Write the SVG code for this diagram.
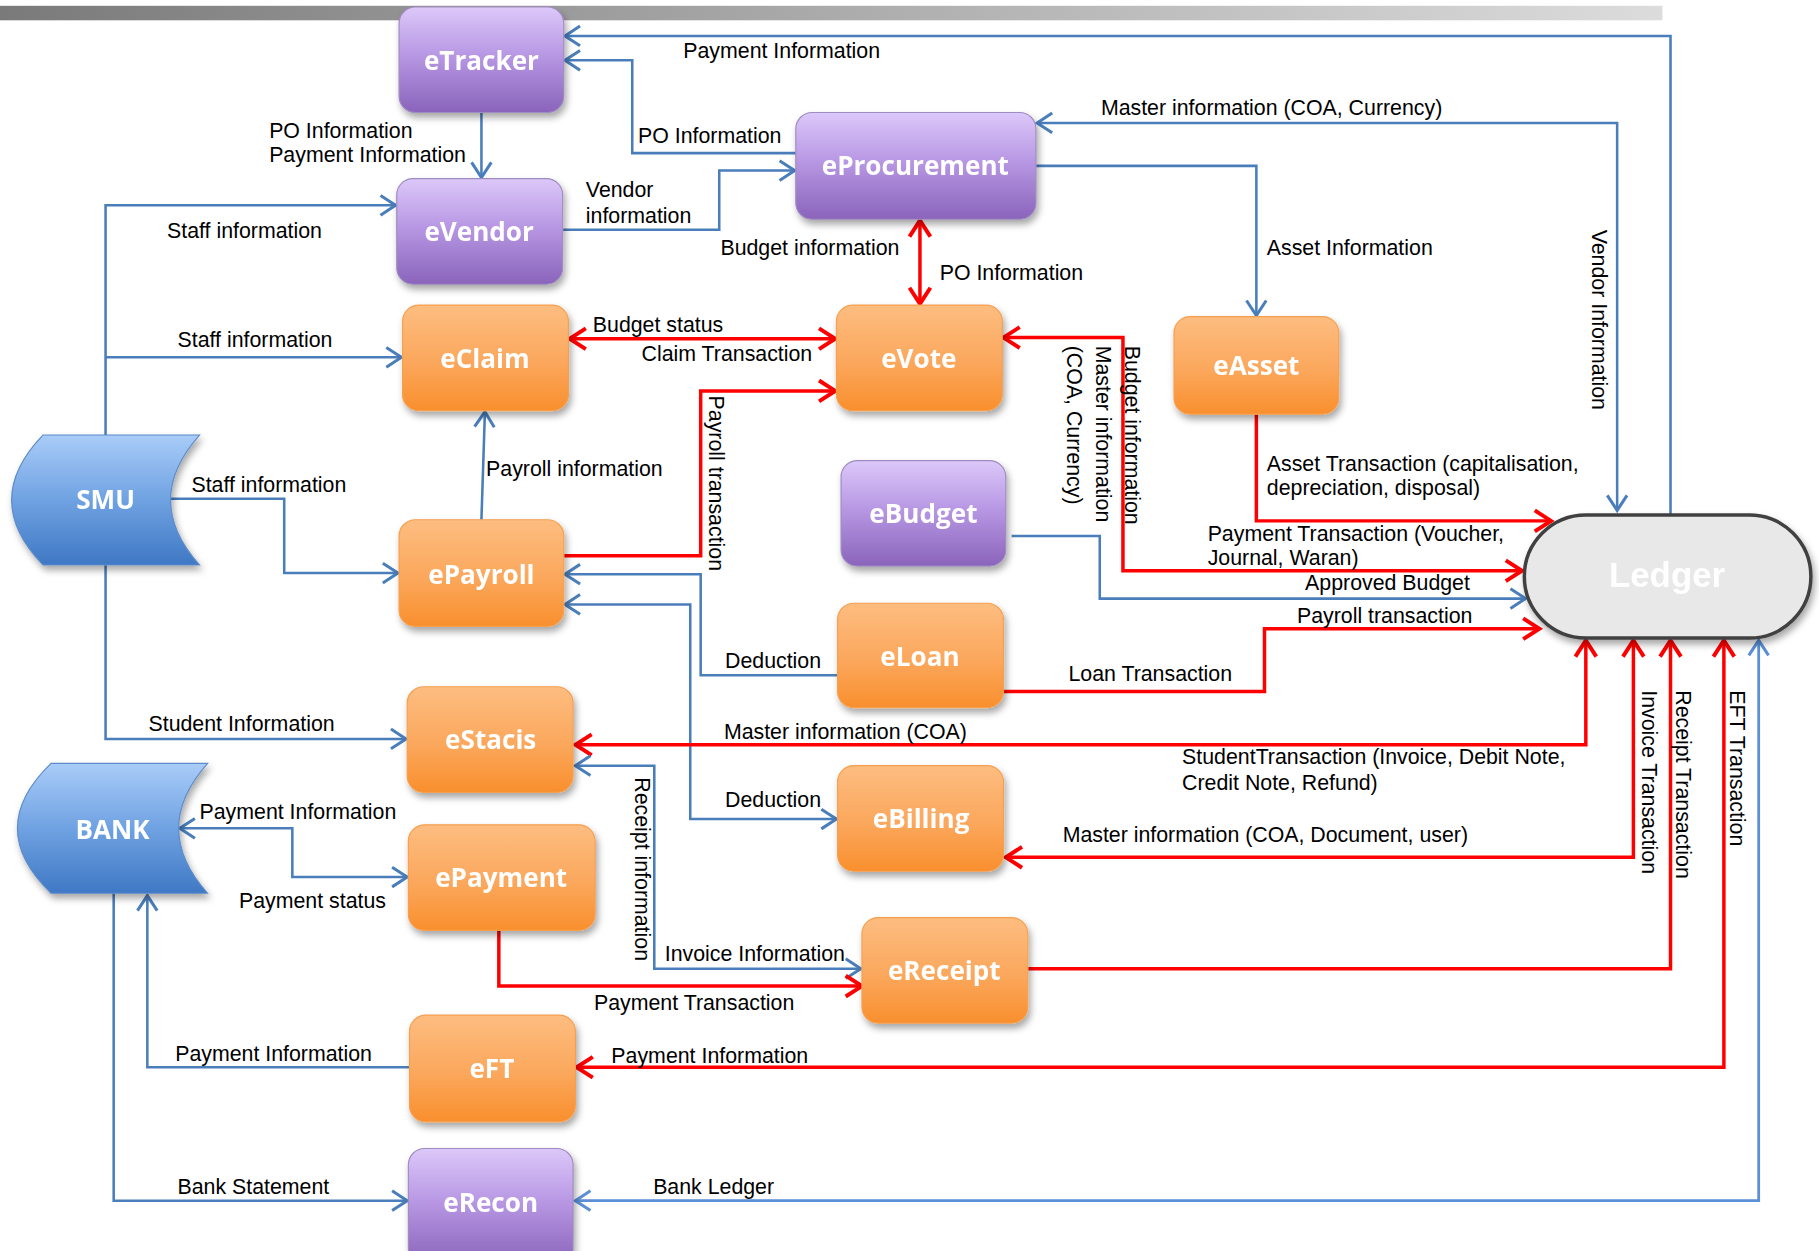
<svg xmlns="http://www.w3.org/2000/svg" width="1819" height="1251" viewBox="0 0 1819 1251">
<defs>
<style>
.lbl{font-family:"Liberation Sans",Arial,sans-serif;font-size:18.4px;fill:#000}
.nt{font-family:"Open Sans","Noto Sans",sans-serif;font-weight:700;font-size:22.5px;fill:#fff;text-anchor:middle}
.b{fill:none;stroke:#4a7ebb;stroke-width:2.2}
.b2{fill:none;stroke:#5b8fd6;stroke-width:2.4}
.r{fill:none;stroke:#ff0000;stroke-width:3}
.ob{fill:url(#og);stroke:#f6a050;stroke-width:1}
.pb{fill:url(#pg);stroke:#9f8cc0;stroke-width:1}
.bl{fill:url(#bg);stroke:#5d8cc9;stroke-width:1}
</style>
<linearGradient id="bar" x1="0" y1="0" x2="1" y2="0"><stop offset="0" stop-color="#7a7a7a"/><stop offset="1" stop-color="#dcdcdc"/></linearGradient>
<linearGradient id="og" x1="0" y1="0" x2="0" y2="1"><stop offset="0" stop-color="#fdbd80"/><stop offset="0.55" stop-color="#fba75c"/><stop offset="1" stop-color="#f98f2d"/></linearGradient>
<linearGradient id="pg" x1="0" y1="0" x2="0" y2="1"><stop offset="0" stop-color="#dcc8f9"/><stop offset="0.45" stop-color="#b898e4"/><stop offset="1" stop-color="#8a64bb"/></linearGradient>
<linearGradient id="bg" x1="0" y1="0" x2="0" y2="1"><stop offset="0" stop-color="#a9ccf8"/><stop offset="0.5" stop-color="#6fa2e2"/><stop offset="1" stop-color="#3f78c4"/></linearGradient>
<filter id="sh" x="-20%" y="-20%" width="140%" height="160%"><feDropShadow dx="2" dy="4" stdDeviation="3" flood-color="#000" flood-opacity="0.35"/></filter>
<marker id="ab" markerUnits="userSpaceOnUse" markerWidth="30" markerHeight="30" viewBox="-15 -15 30 30" refX="0" refY="0" orient="auto-start-reverse" overflow="visible"><path d="M-13,-8.5 L0,0 L-13,8.5" fill="none" stroke="#4a7ebb" stroke-width="2.6"/></marker>
<marker id="ab2" markerUnits="userSpaceOnUse" markerWidth="30" markerHeight="30" viewBox="-15 -15 30 30" refX="0" refY="0" orient="auto-start-reverse" overflow="visible"><path d="M-13,-8.5 L0,0 L-13,8.5" fill="none" stroke="#5b8fd6" stroke-width="2.6"/></marker>
<marker id="ar" markerUnits="userSpaceOnUse" markerWidth="30" markerHeight="30" viewBox="-15 -15 30 30" refX="0" refY="0" orient="auto-start-reverse" overflow="visible"><path d="M-14,-9 L0,0 L-14,9" fill="none" stroke="#ff0000" stroke-width="3.4"/></marker>
</defs>
<rect width="1819" height="1251" fill="#fff"/>
<g transform="scale(1.16008)">
<rect x="0" y="5" width="1433" height="12.5" fill="url(#bar)"/>

<g id="connectors">
<path class="b" d="M1440,444 V31 H487" marker-end="url(#ab)"/>
<path class="b" d="M686,132 H545 V52 H487" marker-end="url(#ab)"/>
<path class="b" d="M415,97 V153" marker-end="url(#ab)"/>
<path class="b" d="M91,375 V177 H341" marker-end="url(#ab)"/>
<path class="b" d="M91,308 H346" marker-end="url(#ab)"/>
<path class="b" d="M147,430 H245 V494 H343" marker-end="url(#ab)"/>
<path class="b" d="M91,487 V637 H350" marker-end="url(#ab)"/>
<path class="b" d="M485,198 H620 V147 H685" marker-end="url(#ab)"/>
<path class="b" d="M894,106 H1394 V440" marker-start="url(#ab)" marker-end="url(#ab)"/>
<path class="b" d="M893,143 H1083 V272" marker-end="url(#ab)"/>
<path class="r" d="M793,190 V262" marker-start="url(#ar)" marker-end="url(#ar)"/>
<path class="r" d="M491,292 H720" marker-start="url(#ar)" marker-end="url(#ar)"/>
<path class="r" d="M486,479 H604 V337 H720" marker-end="url(#ar)"/>
<path class="b" d="M415,448 L418,355" marker-end="url(#ab)"/>
<path class="b" d="M722,582 H604 V495 H487" marker-end="url(#ab)"/>
<path class="b" d="M487,521 H595 V706 H721" marker-start="url(#ab)" marker-end="url(#ab)"/>
<path class="b" d="M872,462 H948 V516 H1315" marker-end="url(#ab)"/>
<path class="r" d="M865,291 H968 V492 H1312" marker-start="url(#ar)" marker-end="url(#ar)"/>
<path class="r" d="M1083,357 V449 H1337" marker-end="url(#ar)"/>
<path class="r" d="M865,596 H1090 V542 H1327" marker-end="url(#ar)"/>
<path class="r" d="M496,642 H1367 V552" marker-start="url(#ar)" marker-end="url(#ar)"/>
<path class="b" d="M496,660 H564 V835 H742" marker-start="url(#ab)" marker-end="url(#ab)"/>
<path class="r" d="M430,802 V850 H743" marker-end="url(#ar)"/>
<path class="r" d="M886,835 H1440 V552" marker-end="url(#ar)"/>
<path class="r" d="M867,739 H1408 V552" marker-start="url(#ar)" marker-end="url(#ar)"/>
<path class="r" d="M497,920 H1486 V552" marker-start="url(#ar)" marker-end="url(#ar)"/>
<path class="b2" d="M496,1035 H1516 V552" marker-start="url(#ab2)" marker-end="url(#ab2)"/>
<path class="b" d="M155,714 H252 V756 H351" marker-start="url(#ab)" marker-end="url(#ab)"/>
<path class="b" d="M353,920 H127 V772" marker-end="url(#ab)"/>
<path class="b" d="M98,770 V1035 H351" marker-end="url(#ab)"/>
</g>

<g id="labels">
<text class="lbl" x="589" y="50">Payment Information</text>
<text class="lbl" x="550" y="123">PO Information</text>
<text class="lbl" x="949" y="99">Master information (COA, Currency)</text>
<text class="lbl" x="232" y="119">PO Information</text>
<text class="lbl" x="232" y="140">Payment Information</text>
<text class="lbl" x="144" y="205">Staff information</text>
<text class="lbl" x="505" y="170">Vendor</text>
<text class="lbl" x="505" y="192">information</text>
<text class="lbl" x="621" y="220">Budget information</text>
<text class="lbl" x="810" y="241">PO Information</text>
<text class="lbl" x="1092" y="220">Asset Information</text>
<text class="lbl" x="153" y="299">Staff information</text>
<text class="lbl" x="511" y="286">Budget status</text>
<text class="lbl" x="553" y="311">Claim Transaction</text>
<text class="lbl" x="165" y="424">Staff information</text>
<text class="lbl" x="419" y="410">Payroll information</text>
<text class="lbl" x="1092" y="406">Asset Transaction (capitalisation,</text>
<text class="lbl" x="1092" y="427">depreciation, disposal)</text>
<text class="lbl" x="1041" y="466">Payment Transaction (Voucher,</text>
<text class="lbl" x="1041" y="487">Journal, Waran)</text>
<text class="lbl" x="1125" y="509">Approved Budget</text>
<text class="lbl" x="1118" y="537">Payroll transaction</text>
<text class="lbl" x="625" y="576">Deduction</text>
<text class="lbl" x="921" y="587">Loan Transaction</text>
<text class="lbl" x="128" y="630">Student Information</text>
<text class="lbl" x="624" y="637">Master information (COA)</text>
<text class="lbl" x="1019" y="659">StudentTransaction (Invoice, Debit Note,</text>
<text class="lbl" x="1019" y="681">Credit Note, Refund)</text>
<text class="lbl" x="625" y="696">Deduction</text>
<text class="lbl" x="172" y="706">Payment Information</text>
<text class="lbl" x="916" y="726">Master information (COA, Document, user)</text>
<text class="lbl" x="206" y="783">Payment status</text>
<text class="lbl" x="573" y="828">Invoice Information</text>
<text class="lbl" x="512" y="871">Payment Transaction</text>
<text class="lbl" x="151" y="915">Payment Information</text>
<text class="lbl" x="527" y="916">Payment Information</text>
<text class="lbl" x="153" y="1029">Bank Statement</text>
<text class="lbl" x="563" y="1029">Bank Ledger</text>
<text class="lbl" transform="translate(1372,198) rotate(90)">Vendor Information</text>
<text class="lbl" transform="translate(611,341) rotate(90)">Payroll transaction</text>
<text class="lbl" transform="translate(970,298) rotate(90)">Budget information</text>
<text class="lbl" transform="translate(945,298) rotate(90)">Master information</text>
<text class="lbl" transform="translate(920,298) rotate(90)">(COA, Currency)</text>
<text class="lbl" transform="translate(547,670) rotate(90)">Receipt information</text>
<text class="lbl" transform="translate(1415,595) rotate(90)">Invoice Transaction</text>
<text class="lbl" transform="translate(1445,595) rotate(90)">Receipt Transaction</text>
<text class="lbl" transform="translate(1491,595) rotate(90)">EFT Transaction</text>
</g>

<g id="eTracker" filter="url(#sh)"><rect class="pb" x="344" y="6" width="142" height="91" rx="14"/><text class="nt" x="415" y="60">eTracker</text></g>
<g id="eVendor" filter="url(#sh)"><rect class="pb" x="342" y="154" width="143" height="91" rx="14"/><text class="nt" x="413" y="208">eVendor</text></g>
<g id="eProcurement" filter="url(#sh)"><rect class="pb" x="686" y="97" width="207" height="92" rx="14"/><text class="nt" x="789" y="151">eProcurement</text></g>
<g id="eClaim" filter="url(#sh)"><rect class="ob" x="347" y="263" width="143" height="91" rx="14"/><text class="nt" x="418" y="317">eClaim</text></g>
<g id="eVote" filter="url(#sh)"><rect class="ob" x="721" y="263" width="143" height="91" rx="14"/><text class="nt" x="792" y="317">eVote</text></g>
<g id="eAsset" filter="url(#sh)"><rect class="ob" x="1012" y="273" width="142" height="84" rx="14"/><text class="nt" x="1083" y="323">eAsset</text></g>
<g id="eBudget" filter="url(#sh)"><rect class="pb" x="725" y="397" width="142" height="91" rx="14"/><text class="nt" x="796" y="451">eBudget</text></g>
<g id="ePayroll" filter="url(#sh)"><rect class="ob" x="344" y="448" width="142" height="92" rx="14"/><text class="nt" x="415" y="503">ePayroll</text></g>
<g id="eLoan" filter="url(#sh)"><rect class="ob" x="722" y="520" width="143" height="90" rx="14"/><text class="nt" x="793" y="574">eLoan</text></g>
<g id="eStacis" filter="url(#sh)"><rect class="ob" x="351" y="592" width="143" height="91" rx="14"/><text class="nt" x="423" y="646">eStacis</text></g>
<g id="eBilling" filter="url(#sh)"><rect class="ob" x="722" y="660" width="143" height="91" rx="14"/><text class="nt" x="794" y="714">eBilling</text></g>
<g id="ePayment" filter="url(#sh)"><rect class="ob" x="352" y="711" width="161" height="91" rx="14"/><text class="nt" x="432" y="765">ePayment</text></g>
<g id="eReceipt" filter="url(#sh)"><rect class="ob" x="743" y="791" width="143" height="91" rx="14"/><text class="nt" x="814" y="845">eReceipt</text></g>
<g id="eFT" filter="url(#sh)"><rect class="ob" x="353" y="875" width="143" height="92" rx="14"/><text class="nt" x="424" y="929">eFT</text></g>
<g id="eRecon" filter="url(#sh)"><rect class="pb" x="352" y="990" width="142" height="100" rx="14"/><text class="nt" x="423" y="1045">eRecon</text></g>

<g id="SMU" filter="url(#sh)"><path class="bl" d="M37,375 H172 Q122,431 172,487 H37 Q-17,431 37,375 Z"/><text class="nt" x="91" y="439">SMU</text></g>
<g id="BANK" filter="url(#sh)"><path class="bl" d="M44,658 H179 Q129,714 179,770 H44 Q-14,714 44,658 Z"/><text class="nt" x="97" y="723">BANK</text></g>
<g id="Ledger" filter="url(#sh)"><rect x="1314" y="444" width="247" height="106" rx="53" fill="#e8e8e8" stroke="#404040" stroke-width="3"/><text x="1437" y="506" text-anchor="middle" font-family="Liberation Sans, Arial, sans-serif" font-weight="700" font-size="30" fill="#fff">Ledger</text></g>
</g>
</svg>
